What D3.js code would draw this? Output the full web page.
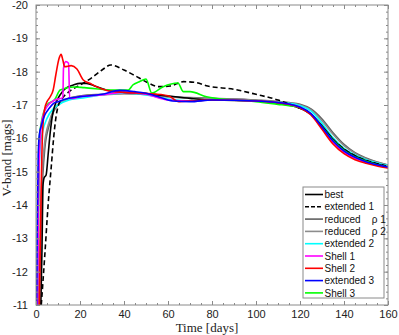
<!DOCTYPE html>
<html>
<head>
<meta charset="utf-8">
<script src="https://cdn.jsdelivr.net/npm/d3@7"></script>
<style>
body { margin: 0; background: #fff; }
.tick text { font-family: "Liberation Sans", Arial, sans-serif; font-size: 11px; fill: #222; }
.lab { font-family: "Liberation Serif", "Times New Roman", serif; font-size: 13px; fill: #222; }
.leg { font-family: "Liberation Sans", Arial, sans-serif; font-size: 10px; fill: #111; }
</style>
</head>
<body>
<div id="chart"></div>
<script>
var svgWidth = 399;
var svgHeight = 335;
var margin = { top: 5, right: 11, bottom: 30, left: 36 };
var chartWidth = svgWidth - margin.left - margin.right;
var chartHeight = svgHeight - margin.top - margin.bottom;

// series: [time (days), V mag]
var best = [[2.2,-11],[2.7,-12.6],[3.2,-14.6],[3.7,-14.82],[4.6,-14.9],[5.5,-15.5],[6.5,-16.2],[7.5,-16.7],[8.5,-16.97],[10,-17.2],[12,-17.4],[14,-17.52],[17,-17.6],[20,-17.65],[23,-17.65],[27,-17.56],[32,-17.45],[40,-17.38],[50,-17.34],[60,-17.27],[70,-17.2],[80,-17.15],[90,-17.14],[100,-17.12],[110,-17.05],[115,-17.0],[120,-16.9],[125,-16.72],[130,-16.38],[135,-15.97],[140,-15.67],[145,-15.47],[150,-15.33],[155,-15.23],[160,-15.15]];
var extended1 = [[2.4,-11],[4,-12.5],[5.5,-14],[7,-15.2],[8,-16],[9,-16.6],[10,-16.95],[12,-17.2],[15,-17.4],[20,-17.6],[25,-17.8],[30,-18.05],[34,-18.2],[40,-18.05],[45,-17.88],[50,-17.7],[56,-17.55],[61,-17.57],[67,-17.7],[72,-17.68],[78,-17.57],[90,-17.47],[100,-17.32],[110,-17.15],[118,-16.95],[122,-16.85],[126,-16.65],[130,-16.35],[135,-15.97],[140,-15.68],[145,-15.48],[150,-15.34],[155,-15.24],[160,-15.16]];
var reduced1 = [[1.4,-11],[2.5,-14],[4,-15.7],[6,-16.4],[8,-16.8],[10,-17.0],[15,-17.2],[20,-17.27],[30,-17.32],[40,-17.35],[50,-17.33],[60,-17.25],[80,-17.2],[100,-17.15],[115,-17.07],[120,-17.02],[125,-16.88],[130,-16.58],[135,-16.17],[140,-15.82],[145,-15.57],[150,-15.41],[155,-15.29],[160,-15.2]];
var reduced2 = [[1.2,-11],[2.3,-14.2],[3.8,-15.8],[6,-16.5],[8,-16.85],[10,-17.02],[15,-17.2],[20,-17.26],[30,-17.3],[40,-17.34],[50,-17.32],[60,-17.24],[80,-17.19],[100,-17.14],[115,-17.06],[120,-17.0],[125,-16.85],[130,-16.53],[135,-16.12],[140,-15.78],[145,-15.55],[150,-15.39],[155,-15.28],[160,-15.19]];
var extended2 = [[0.5,-11],[1,-14],[2,-15.8],[3,-16.2],[5,-16.6],[8,-16.9],[10,-17.0],[15,-17.15],[20,-17.2],[30,-17.3],[40,-17.36],[50,-17.3],[60,-17.18],[70,-17.12],[80,-17.15],[100,-17.12],[115,-17.05],[120,-16.98],[125,-16.82],[130,-16.45],[135,-16.02],[140,-15.7],[145,-15.5],[150,-15.36],[155,-15.26],[160,-15.18]];
var shell1 = [[0.8,-11],[1.2,-14.5],[2,-16.1],[3.3,-16.7],[5,-16.95],[8.6,-17.15],[12.2,-17.22],[12.5,-18.1],[13.5,-18.3],[14.8,-18.25],[15.3,-17.2],[17,-17.2],[20,-17.25],[30,-17.3],[40,-17.38],[50,-17.32],[60,-17.15],[70,-17.12],[80,-17.15],[100,-17.12],[115,-17.02],[120,-16.93],[125,-16.72],[130,-16.3],[135,-15.88],[140,-15.58],[145,-15.4],[150,-15.28],[155,-15.19],[160,-15.12]];
var shell2 = [[1.5,-11],[2,-13],[2.5,-15],[3,-16.2],[4,-16.9],[5,-17.1],[6.4,-17.24],[7.8,-17.45],[9,-17.9],[10.5,-18.4],[11.4,-18.52],[12.2,-18.35],[13,-18.15],[16,-18.18],[18.6,-18.08],[21.5,-17.75],[24.5,-17.65],[30,-17.48],[35,-17.4],[50,-17.35],[60,-17.28],[65,-17.1],[70,-17.12],[80,-17.15],[100,-17.12],[115,-17.02],[120,-16.92],[125,-16.7],[130,-16.27],[135,-15.83],[140,-15.54],[145,-15.36],[150,-15.25],[155,-15.17],[160,-15.11]];
var extended3 = [[0.3,-11],[0.5,-13],[1,-15.5],[1.5,-16.1],[2.5,-16.4],[4,-16.7],[6,-16.9],[8,-17.05],[10,-17.1],[15,-17.2],[20,-17.25],[30,-17.32],[38,-17.44],[45,-17.4],[50,-17.35],[56,-17.24],[62,-17.12],[70,-17.1],[80,-17.15],[100,-17.12],[115,-17.03],[120,-16.94],[125,-16.74],[130,-16.34],[135,-15.92],[140,-15.62],[145,-15.43],[150,-15.3],[155,-15.21],[160,-15.14]];
var shell3 = [[0.8,-11],[1.5,-16],[2.5,-16.5],[5,-17.0],[8.6,-17.17],[11,-17.45],[17,-17.54],[22,-17.52],[35,-17.45],[42,-17.45],[44,-17.6],[47,-17.7],[50,-17.78],[52.6,-17.36],[57.8,-17.55],[64.5,-17.66],[67,-17.4],[70,-17.4],[77.5,-17.25],[90,-17.15],[100,-17.1],[110,-17.02],[115,-16.98],[120,-16.92],[125,-16.73],[130,-16.34],[135,-15.94],[140,-15.64],[145,-15.44],[150,-15.31],[155,-15.21],[160,-15.14]];

var names = ["best", "extended 1", "reduced    \u03c1 1", "reduced    \u03c1 2", "extended 2", "Shell 1", "Shell 2", "extended 3", "Shell 3"];
var colors = ["#000000", "#000000", "#606060", "#8c8c8c", "#00ffff", "#ff00ff", "#ff0000", "#0000ff", "#00ff00"];
var dashes = [null, "5,3", null, null, null, null, null, null, null];
var series = [best, extended1, reduced1, reduced2, extended2, shell1, shell2, extended3, shell3];
// drawing order (later on top)
var drawOrder = [2, 3, 4, 1, 0, 8, 5, 6, 7];

var xTicks = [0, 20, 40, 60, 80, 100, 120, 140, 160];
var yTicks = [-20, -19, -18, -17, -16, -15, -14, -13, -12, -11];

var svg = d3.select("#chart").append("svg")
  .attr("width", svgWidth)
  .attr("height", svgHeight);

var chartGroup = svg.append("g")
  .attr("transform", `translate(${margin.left},${margin.top})`);

var xScale = d3.scaleLinear().domain([0, 160]).range([0, chartWidth]);
var yScale = d3.scaleLinear().domain([-20, -11]).range([0, chartHeight]);

chartGroup.append("rect")
  .attr("width", chartWidth).attr("height", chartHeight)
  .attr("fill", "#fff");

chartGroup.append("clipPath").attr("id", "clip")
  .append("rect").attr("width", chartWidth).attr("height", chartHeight);

var line = d3.line()
  .x(d => xScale(d[0]))
  .y(d => yScale(d[1]))
  .curve(d3.curveMonotoneX);

var lines = chartGroup.append("g").attr("clip-path", "url(#clip)");
drawOrder.forEach(function(i) {
  lines.append("path")
    .datum(series[i])
    .attr("d", line)
    .attr("fill", "none")
    .attr("stroke", colors[i])
    .attr("stroke-width", 1.6)
    .attr("stroke-dasharray", dashes[i]);
});

// axes with inward ticks, minor ticks
var axisColor = "#8a8a8a";
function styleAxis(g) {
  g.select(".domain").remove();
  g.selectAll(".tick line").attr("stroke", axisColor);
}
var xMinor = d3.range(0, 161, 5);
var yMinor = d3.range(-20, -10.99, 0.2);

chartGroup.append("g")
  .attr("transform", `translate(0,${chartHeight})`)
  .call(d3.axisBottom(xScale).tickValues(xTicks).tickSizeInner(-4).tickSizeOuter(0).tickPadding(5))
  .call(styleAxis);
chartGroup.append("g")
  .attr("transform", `translate(0,${chartHeight})`)
  .call(d3.axisBottom(xScale).tickValues(xMinor).tickSizeInner(-2).tickSizeOuter(0).tickFormat(""))
  .call(styleAxis);
chartGroup.append("g")
  .call(d3.axisTop(xScale).tickValues(xMinor).tickSizeInner(-2).tickSizeOuter(0).tickFormat(""))
  .call(styleAxis);
chartGroup.append("g")
  .call(d3.axisTop(xScale).tickValues(xTicks).tickSizeInner(-4).tickSizeOuter(0).tickFormat(""))
  .call(styleAxis);

chartGroup.append("g")
  .call(d3.axisLeft(yScale).tickValues(yTicks).tickSizeInner(-4).tickSizeOuter(0).tickPadding(8).tickFormat(d3.format("d")))
  .call(styleAxis);
chartGroup.append("g")
  .call(d3.axisLeft(yScale).tickValues(yMinor).tickSizeInner(-2).tickSizeOuter(0).tickFormat(""))
  .call(styleAxis);
chartGroup.append("g")
  .attr("transform", `translate(${chartWidth},0)`)
  .call(d3.axisRight(yScale).tickValues(yMinor).tickSizeInner(-2).tickSizeOuter(0).tickFormat(""))
  .call(styleAxis);
chartGroup.append("g")
  .attr("transform", `translate(${chartWidth},0)`)
  .call(d3.axisRight(yScale).tickValues(yTicks).tickSizeInner(-4).tickSizeOuter(0).tickFormat(""))
  .call(styleAxis);

chartGroup.selectAll(".tick text").text(function() { return this.textContent.replace("\u2212", "-"); });

chartGroup.append("rect")
  .attr("width", chartWidth).attr("height", chartHeight)
  .attr("fill", "none").attr("stroke", axisColor).attr("stroke-width", 1);

// labels
svg.append("text").attr("class", "lab")
  .attr("x", 207).attr("y", 332)
  .attr("text-anchor", "middle")
  .text("Time [days]");
svg.append("text").attr("class", "lab")
  .attr("transform", `translate(11,158) rotate(-90)`)
  .attr("text-anchor", "middle")
  .text("V-band [mags]");

// legend
var legend = svg.append("g").attr("transform", "translate(303,187)");
legend.append("rect")
  .attr("width", 81).attr("height", 111)
  .attr("fill", "#fff").attr("stroke", axisColor).attr("stroke-width", 1);
names.forEach(function(n, i) {
  var y = 7.5 + i * 12.3;
  legend.append("line")
    .attr("x1", 2).attr("x2", 20).attr("y1", y).attr("y2", y)
    .attr("stroke", colors[i]).attr("stroke-width", 1.6)
    .attr("stroke-dasharray", dashes[i] ? "4,2" : null);
  legend.append("text").attr("class", "leg")
    .attr("x", 21.5).attr("y", y + 3.6)
    .style("white-space", "pre")
    .text(n);
});
</script>
</body>
</html>
